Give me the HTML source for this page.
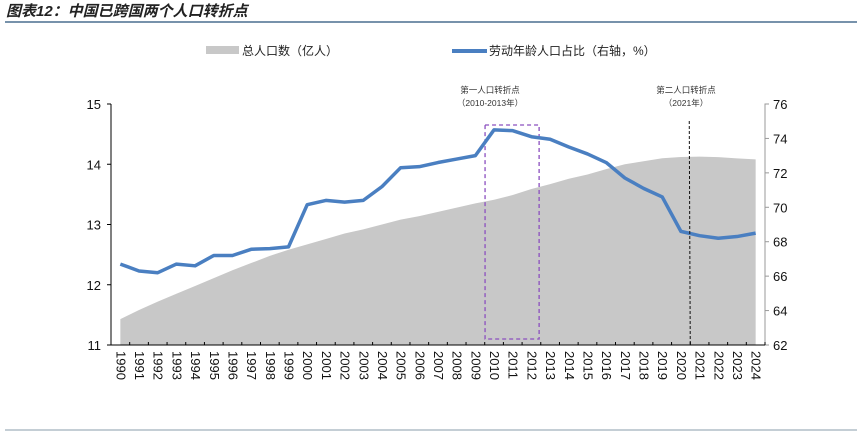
<!DOCTYPE html>
<html><head><meta charset="utf-8">
<style>
body{margin:0;background:#fff;width:857px;height:432px;overflow:hidden;font-family:"Liberation Sans","Noto Sans CJK SC",sans-serif;}
svg{display:block}
</style></head>
<body>
<svg id="c" width="857" height="432" xmlns="http://www.w3.org/2000/svg">
<text x="6" y="16" font-size="15" font-style="italic" font-weight="bold" fill="#222" font-family="'Liberation Sans','Noto Sans CJK SC',sans-serif">图表12：中国已跨国两个人口转折点</text>
<line x1="5" y1="22" x2="857" y2="22" stroke="#4a6f8f" stroke-width="1.5"/>
<line x1="5" y1="430" x2="857" y2="430" stroke="#8a9cab" stroke-width="1"/>
<g>
<rect x="206" y="46" width="33" height="8" fill="#c8c8c8"/>
<text x="242" y="55" font-size="12" fill="#222">总人口数（亿人）</text>
<line x1="452" y1="51" x2="487" y2="51" stroke="#4a7fc1" stroke-width="4"/>
<text x="489" y="55" font-size="12" fill="#222">劳动年龄人口占比（右轴，%）</text>
</g>
<text x="490" y="93" font-size="8.5" fill="#333" text-anchor="middle">第一人口转折点</text>
<text x="490" y="106" font-size="8.5" fill="#333" text-anchor="middle">（2010-2013年）</text>
<text x="686" y="93" font-size="8.5" fill="#333" text-anchor="middle">第二人口转折点</text>
<text x="686" y="106" font-size="8.5" fill="#333" text-anchor="middle">（2021年）</text>
<g id="plot"></g>
</svg>
<script>
const years=[1990,1991,1992,1993,1994,1995,1996,1997,1998,1999,2000,2001,2002,2003,2004,2005,2006,2007,2008,2009,2010,2011,2012,2013,2014,2015,2016,2017,2018,2019,2020,2021,2022,2023,2024];
const population=[11.43,11.58,11.72,11.85,11.98,12.11,12.24,12.36,12.48,12.58,12.67,12.76,12.85,12.92,13.0,13.08,13.14,13.21,13.28,13.35,13.41,13.49,13.59,13.67,13.76,13.83,13.92,14.0,14.05,14.10,14.12,14.126,14.118,14.097,14.08];
const laborShare=[66.7,66.3,66.2,66.7,66.6,67.2,67.2,67.56,67.6,67.7,70.15,70.4,70.3,70.4,71.2,72.3,72.36,72.6,72.8,73.0,74.5,74.45,74.1,73.95,73.5,73.1,72.6,71.7,71.1,70.6,68.6,68.35,68.2,68.3,68.5];
const leftTicks=[11,12,13,14,15];
const rightTicks=[62,64,66,68,70,72,74,76];
const NS='http://www.w3.org/2000/svg';
const g=document.getElementById('plot');
const X0=111,X1=765,Y0=345,Y1=104;
const bw=(X1-X0)/years.length;
const xs=i=>X0+bw*(i+0.5);
const yl=v=>Y0-(v-11)/(15-11)*(Y0-Y1);
const yr=v=>Y0-(v-62)/(76-62)*(Y0-Y1);
function mk(t,a){const e=document.createElementNS(NS,t);for(const k in a)e.setAttribute(k,a[k]);g.appendChild(e);return e;}
// area
let d='M'+xs(0)+','+Y0;
population.forEach((v,i)=>{d+=' L'+xs(i)+','+yl(v);});
d+=' L'+xs(population.length-1)+','+Y0+' Z';
const area=mk('path',{d:d,fill:'#c8c8c8'});


// dashed box 2010-2012
const bx=mk('rect',{x:xs(20)-9,y:125,width:bw*3-2,height:214,fill:'none',stroke:'#8b4fbf','stroke-width':1.3,'stroke-dasharray':'4,3'});


// line
const pts=laborShare.map((v,i)=>xs(i)+','+yr(v)).join(' ');
const ln=mk('polyline',{points:pts,fill:'none',stroke:'#4a7fc1','stroke-width':3.5,'stroke-linejoin':'round'});


// 2021 dashed line
const vl=mk('line',{x1:X0+bw*31-1,y1:121,x2:X0+bw*31,y2:Y0,stroke:'#111','stroke-width':1,'stroke-dasharray':'3,2'});


// axes
const ax=mk('path',{d:'M'+X0+','+Y1+' H'+(X0-4)+' M'+X0+','+Y1+' V'+Y0+' H'+X1,fill:'none',stroke:'#000','stroke-width':1});


const rax=mk('path',{d:'M'+X1+','+Y0+' V'+Y1+' H'+(X1+4),fill:'none',stroke:'#999','stroke-width':1});


leftTicks.forEach(v=>{
  const tk=mk('line',{x1:X0-4,x2:X0,y1:yl(v),y2:yl(v),stroke:'#000'});
  
  
  const t=mk('text',{x:X0-10,y:yl(v)+5,'font-size':13,'text-anchor':'end',fill:'#111'});
  t.textContent=v;
  
  
});
rightTicks.forEach(v=>{
  const tk=mk('line',{x1:X1,x2:X1+4,y1:yr(v),y2:yr(v),stroke:'#999'});
  
  
  const t=mk('text',{x:X1+8,y:yr(v)+5,'font-size':13,fill:'#111'});
  t.textContent=v;
  
  
});
years.forEach((y,i)=>{
  const tk=mk('line',{x1:X0+bw*(i+1),x2:X0+bw*(i+1),y1:Y0,y2:Y0-3,stroke:'#000'});
  
  
  const t=mk('text',{x:0,y:0,'font-size':13,fill:'#111',transform:'translate('+(xs(i)-4)+','+(Y0+6)+') rotate(90)'});
  t.textContent=y;
  
  
});
</script>
</body></html>
